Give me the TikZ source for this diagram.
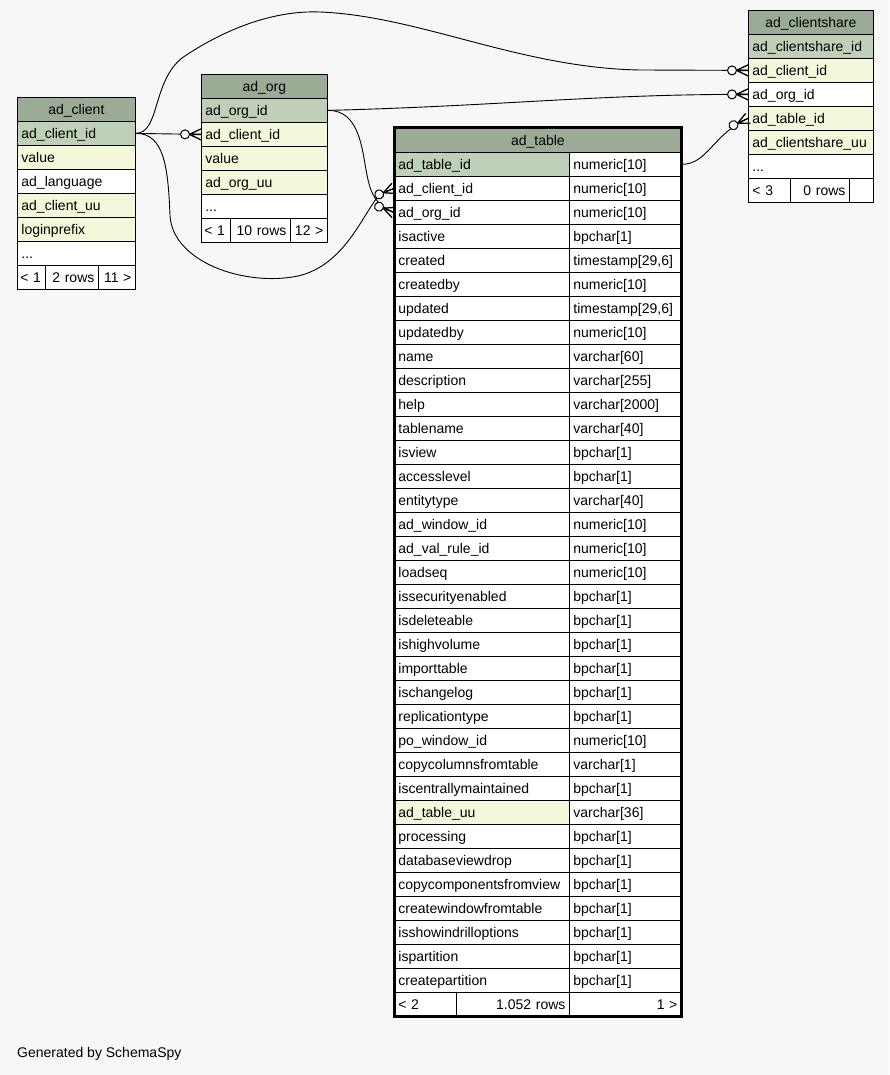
\documentclass[tikz,border=0pt]{standalone}
\usepackage{fontspec}
\setmainfont{Liberation Sans}
\usepackage{tikz}
\usetikzlibrary{positioning, calc}
\definecolor{headgreen}{HTML}{9BAB96}
\definecolor{keygreen}{HTML}{BED1B8}
\definecolor{idxcream}{HTML}{F4F7DA}
\definecolor{pagegray}{HTML}{F7F7F7}
\newcommand\cellfont{\fontsize{14}{16}\selectfont}
\newcommand\elide{...}
\tikzset{
  cell/.style={draw=black, line width=0.8pt, anchor=north west, minimum height=24pt,
               inner xsep=4pt, inner ysep=0pt, text height=12pt, text depth=1pt,
               align=left, font=\cellfont, fill=white},
  head/.style={cell, fill=headgreen, align=center},
  rel/.style={line width=0.9pt, black},
  crowo/.pic={
    \draw[line width=1.3pt] (-11.5,0) -- (0,5.5) (-11.5,0) -- (0,0) (-11.5,0) -- (0,-5.5);
    \draw[line width=1pt, fill=pagegray] (-16,0) circle[radius=4.5pt];
  },
}

\begin{document}
\begin{tikzpicture}[x=1pt, y=-1pt]
  \fill[pagegray] (0,0) rectangle (889,1075);
  \useasboundingbox (0,0) rectangle (889,1075);
  % ad_client
  \node[head, text width=110pt] (cl-h) at (17,97) {ad\_client};
  \foreach \i/\t/\c in {1/ad\_client\_id/keygreen, 2/value/idxcream, 3/ad\_language/white,
                        4/ad\_client\_uu/idxcream, 5/loginprefix/idxcream, 6/\elide/white} {
    \node[cell, fill=\c, text width=110pt] (cl-\i) at (17,97+\i*24) {\t};
  }
  \node[cell, text width=22pt, inner xsep=3pt] (cl-f1) at (17,265) {< 1};
  \node[cell, text width=45pt, align=right] (cl-f2) at (45,265) {2 rows};
  \node[cell, text width=29pt, align=right] (cl-f3) at (98,265) {11 >};
  % ad_org
  \node[head, text width=118pt] (org-h) at (201,74) {ad\_org};
  \foreach \i/\t/\c in {1/ad\_org\_id/keygreen, 2/ad\_client\_id/idxcream, 3/value/idxcream,
                        4/ad\_org\_uu/idxcream, 5/\elide/white} {
    \node[cell, fill=\c, text width=118pt] (org-\i) at (201,74+\i*24) {\t};
  }
  \node[cell, text width=23pt, inner xsep=3pt] (org-f1) at (201,218) {< 1};
  \node[cell, text width=52pt, align=right] (org-f2) at (230,218) {10 rows};
  \node[cell, text width=29pt, align=right] (org-f3) at (290,218) {12 >};
  % ad_clientshare
  \node[head, text width=117pt] (cs-h) at (748,10) {ad\_clientshare};
  \foreach \i/\t/\c in {1/ad\_clientshare\_id/keygreen, 2/ad\_client\_id/idxcream, 3/ad\_org\_id/white,
                        4/ad\_table\_id/idxcream, 5/ad\_clientshare\_uu/idxcream, 6/\elide/white} {
    \node[cell, fill=\c, text width=117pt] (cs-\i) at (748,10+\i*24) {\t};
  }
  \node[cell, text width=34pt] (cs-f1) at (748,178) {< 3};
  \node[cell, text width=51pt, align=right] (cs-f2) at (790,178) {0 rows};
  \node[cell, text width=16pt, align=right] (cs-f3) at (849,178) {};
  % ad_table
  \node[head, text width=279pt] (ct-h) at (394,128) {ad\_table};
  \foreach \i/\t/\ty/\c in {1/ad\_table\_id/numeric[10]/keygreen, 2/ad\_client\_id/numeric[10]/white,
      3/ad\_org\_id/numeric[10]/white, 4/isactive/bpchar[1]/white, 5/created/{timestamp[29,6]}/white,
      6/createdby/numeric[10]/white, 7/updated/{timestamp[29,6]}/white, 8/updatedby/numeric[10]/white,
      9/name/varchar[60]/white, 10/description/varchar[255]/white, 11/help/varchar[2000]/white,
      12/tablename/varchar[40]/white, 13/isview/bpchar[1]/white, 14/accesslevel/bpchar[1]/white,
      15/entitytype/varchar[40]/white, 16/ad\_window\_id/numeric[10]/white,
      17/ad\_val\_rule\_id/numeric[10]/white, 18/loadseq/numeric[10]/white,
      19/issecurityenabled/bpchar[1]/white, 20/isdeleteable/bpchar[1]/white,
      21/ishighvolume/bpchar[1]/white, 22/importtable/bpchar[1]/white, 23/ischangelog/bpchar[1]/white,
      24/replicationtype/bpchar[1]/white, 25/po\_window\_id/numeric[10]/white,
      26/copycolumnsfromtable/varchar[1]/white, 27/iscentrallymaintained/bpchar[1]/white,
      28/ad\_table\_uu/varchar[36]/idxcream, 29/processing/bpchar[1]/white,
      30/databaseviewdrop/bpchar[1]/white, 31/copycomponentsfromview/bpchar[1]/white,
      32/createwindowfromtable/bpchar[1]/white, 33/isshowindrilloptions/bpchar[1]/white,
      34/ispartition/bpchar[1]/white, 35/createpartition/bpchar[1]/white} {
    \node[cell, fill=\c, text width=167pt] (ct-\i) at (394,128+\i*24) {\t};
    \node[cell, text width=104pt] (ct-\i-t) at (569,128+\i*24) {\ty};
  }
  \node[cell, text width=54pt] (ct-f1) at (394,992) {< 2};
  \node[cell, text width=105pt, align=right] (ct-f2) at (456,992) {1.052 rows};
  \node[cell, text width=104pt, align=right] (ct-f3) at (569,992) {1 >};
  \draw[line width=3pt] (ct-h.north west) rectangle (ct-f3.south east);
  % relations
  \draw[rel] (cl-1.east) -- (org-2.west);
  \pic at (org-2.west) {crowo};
  \draw[rel] (cl-1.east) .. controls (160,133) and (152,82) .. (182,58)
    .. controls (220,32) and (270,10) .. (320,12) .. controls (420,16) and (520,68) .. (640,70)
    -- (cs-2.west);
  \pic at (cs-2.west) {crowo};
  \draw[rel] (cl-1.east) .. controls (165,133) and (168,170) .. (170,215)
    .. controls (172,262) and (245,287) .. (298,276) .. controls (345,265) and (362,215) .. (380,194)
    -- (ct-2.west);
  \pic[rotate=22] at (ct-2.west) {crowo};
  \draw[rel] (org-1.east) .. controls (500,106) and (600,94) .. (cs-3.west);
  \pic at (cs-3.west) {crowo};
  \draw[rel] (org-1.east) .. controls (360,110) and (362,150) .. (367,175)
    .. controls (371,195) and (376,205) .. (ct-3.west);
  \pic[rotate=-21] at (ct-3.west) {crowo};
  \draw[rel] (ct-1-t.east) .. controls (708,164) and (712,135) .. (cs-4.west);
  \pic[rotate=25] at (cs-4.west) {crowo};
  % footer note
  \node[anchor=west, inner sep=0pt, font=\cellfont] (credit) at (17,1054) {Generated by SchemaSpy};
\end{tikzpicture}
\end{document}
